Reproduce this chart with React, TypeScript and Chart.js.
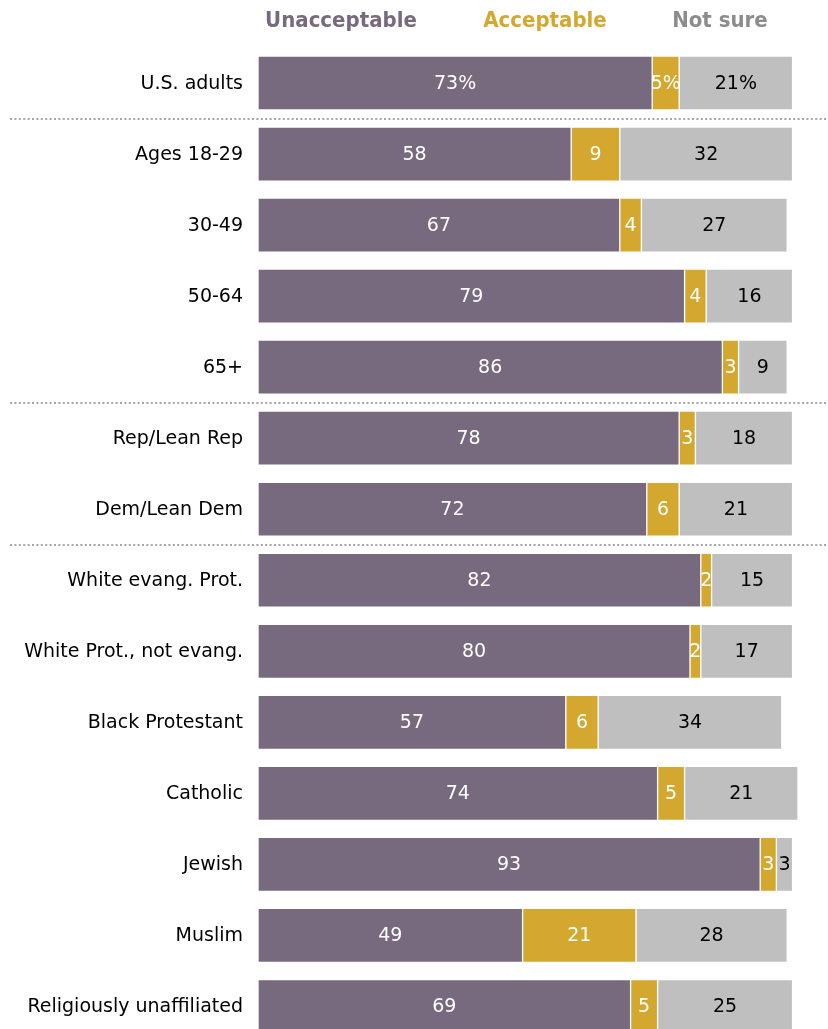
import React, { useEffect, useRef } from "react";
import { Chart, registerables } from "chart.js";

Chart.register(...registerables);

const categories = [
  "U.S. adults",
  "Ages 18-29",
  "30-49",
  "50-64",
  "65+",
  "Rep/Lean Rep",
  "Dem/Lean Dem",
  "White evang. Prot.",
  "White Prot., not evang.",
  "Black Protestant",
  "Catholic",
  "Jewish",
  "Muslim",
  "Religiously unaffiliated",
];
const unacceptable = [73, 58, 67, 79, 86, 78, 72, 82, 80, 57, 74, 93, 49, 69];
const acceptable = [5, 9, 4, 4, 3, 3, 6, 2, 2, 6, 5, 3, 21, 5];
const notSure = [21, 32, 27, 16, 9, 18, 21, 15, 17, 34, 21, 3, 28, 25];
const seriesNames = ["Unacceptable", "Acceptable", "Not sure"];
const separatorsAfter = [0, 4, 6];

const COLORS = ["#776a7e", "#d4a82e", "#bfbfbf"];
const LEGEND_COLORS = ["#776a7e", "#d4a82e", "#8c8c8c"];
const LABEL_COLORS = ["#ffffff", "#ffffff", "#000000"];
const FONT = "'DejaVu Sans', 'Liberation Sans', Arial, sans-serif";

const overlayPlugin = {
  id: "overlay",
  afterDatasetsDraw(chart: any) {
    const ctx = chart.ctx;
    const yScale = chart.scales.y;
    const area = chart.chartArea;
    ctx.save();
    // category labels
    ctx.font = `19px ${FONT}`;
    ctx.fillStyle = "#000";
    ctx.textAlign = "right";
    ctx.textBaseline = "middle";
    categories.forEach((c, i) => {
      ctx.fillText(c, area.left - 15, yScale.getPixelForValue(i) + 1);
    });
    // values
    ctx.font = `19px ${FONT}`;
    chart.data.datasets.forEach((ds: any, di: number) => {
      const meta = chart.getDatasetMeta(di);
      meta.data.forEach((bar: any, i: number) => {
        const v = ds.data[i];
        const txt = i === 0 ? `${v}%` : `${v}`;
        const x = (bar.x + bar.base) / 2;
        ctx.fillStyle = LABEL_COLORS[di];
        ctx.textAlign = "center";
        ctx.fillText(txt, x, bar.y + 1);
      });
    });
    // separators
    ctx.strokeStyle = "#a6a6a6";
    ctx.lineWidth = 2;
    ctx.setLineDash([2, 2.4]);
    separatorsAfter.forEach((i) => {
      const y = Math.round((yScale.getPixelForValue(i) + yScale.getPixelForValue(i + 1)) / 2);
      ctx.beginPath();
      ctx.moveTo(10, y);
      ctx.lineTo(828, y);
      ctx.stroke();
    });
    ctx.setLineDash([]);
    // legend
    ctx.font = `bold 22px 'Liberation Sans Narrow', 'DejaVu Sans Condensed', 'Liberation Sans', sans-serif`;
    const legendX = [341, 545, 720];
    seriesNames.forEach((n, i) => {
      ctx.fillStyle = LEGEND_COLORS[i];
      ctx.textAlign = "center";
      ctx.fillText(n, legendX[i], 21);
    });
    ctx.restore();
  },
};

export default function App() {
  const ref = useRef<HTMLCanvasElement>(null);
  useEffect(() => {
    if (!ref.current) return;
    const chart = new Chart(ref.current, {
      type: "bar",
      data: {
        labels: categories,
        datasets: [unacceptable, acceptable, notSure].map((d, i) => ({
          label: seriesNames[i],
          data: d,
          backgroundColor: COLORS[i],
          borderColor: "rgba(255,255,255,0.45)",
          borderWidth: 1,
          borderSkipped: false,
          barThickness: 54,
        })),
      },
      options: {
        indexAxis: "y",
        animation: false,
        responsive: false,
        maintainAspectRatio: false,
        layout: { padding: { left: 258, right: 30, top: 47.5, bottom: 0 } },
        plugins: { legend: { display: false }, tooltip: { enabled: false } },
        scales: {
          x: { stacked: true, min: 0, max: 100, display: false },
          y: { stacked: true, display: false, offset: true },
        },
      },
      plugins: [overlayPlugin],
    });
    return () => chart.destroy();
  }, []);
  return (
    <div
      style={{
        position: "absolute",
        left: 0,
        top: 0,
        width: 828,
        height: 1029,
        overflow: "hidden",
        background: "#fff",
      }}
    >
      <canvas ref={ref} width={828} height={1042} style={{ display: "block" }} />
    </div>
  );
}
